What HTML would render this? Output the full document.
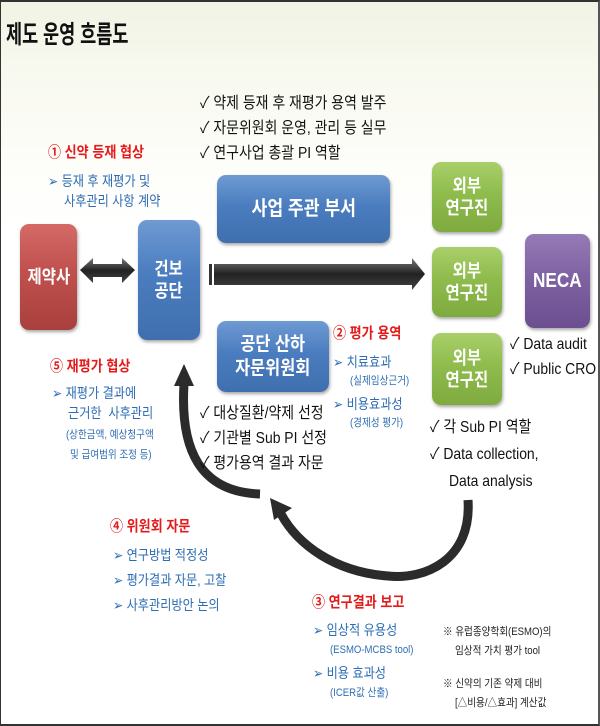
<!DOCTYPE html>
<html><head><meta charset="utf-8"><style>
*{margin:0;padding:0;box-sizing:border-box}
body{width:600px;height:726px;overflow:hidden;background:#fff;font-family:"Liberation Sans","Noto Sans CJK KR",sans-serif;position:relative}
.frame{position:absolute;left:0;top:0;width:600px;height:726px;border:2px solid #333;border-left-width:1px;border-right:2px solid #555;background:linear-gradient(180deg,#f1f3e4 0px,#f7f8ee 60px,#fdfdf9 160px,#fff 230px)}
.t{position:absolute;white-space:nowrap;line-height:1;transform:scaleX(.87);transform-origin:0 0}
.box{position:absolute;border-radius:9px;color:#fff;font-weight:bold;display:flex;align-items:center;justify-content:center;text-align:center;line-height:1.25;box-shadow:1px 2px 3px rgba(0,0,0,.35)}
.box span{display:inline-block;transform:scaleX(.86)}
.blue{background:linear-gradient(180deg,#6f9ad3,#4a7dbf 45%,#3f6fae);}
.green{background:linear-gradient(180deg,#a9cf6a,#8fbc4d 45%,#7eaa3f);}
.red{background:linear-gradient(180deg,#d46a66,#c0504d 45%,#a8403d);}
.purple{background:linear-gradient(180deg,#957bb6,#7f62a2 45%,#6c4f90);}
.r{color:#e41b1b;font-weight:bold;font-size:15px}
.b{color:#2e6db4;font-size:14px}
.s{color:#2e6db4;font-size:11px}
.k{color:#111;font-size:16px}
</style></head><body>
<div class="frame"></div>
<div class="t" style="left:6px;top:23px;font-size:25px;font-weight:bold;color:#111;transform:scaleX(.7)">제도 운영 흐름도</div>

<div class="t k" style="left:200px;top:96px">✓ 약제 등재 후 재평가 용역 발주</div>
<div class="t k" style="left:200px;top:121px">✓ 자문위원회 운영, 관리 등 실무</div>
<div class="t k" style="left:200px;top:146px">✓ 연구사업 총괄 PI 역할</div>

<div class="t r" style="left:48px;top:145px">① 신약 등재 협상</div>
<div class="t b" style="left:48px;top:174px">➢ 등재 후 재평가 및</div>
<div class="t b" style="left:64px;top:194px">사후관리 사항 계약</div>

<div class="box red" style="left:20px;top:224px;width:57px;height:106px;font-size:18px"><span>제약사</span></div>
<div class="box blue" style="left:138px;top:220px;width:62px;height:120px;font-size:18px"><span>건보<br>공단</span></div>
<div class="box blue" style="left:217px;top:175px;width:173px;height:68px;font-size:20px"><span>사업 주관 부서</span></div>
<div class="box green" style="left:432px;top:162px;width:70px;height:70px;font-size:18px"><span>외부<br>연구진</span></div>
<div class="box green" style="left:432px;top:247px;width:70px;height:70px;font-size:18px"><span>외부<br>연구진</span></div>
<div class="box green" style="left:432px;top:333px;width:70px;height:72px;font-size:18px"><span>외부<br>연구진</span></div>
<div class="box purple" style="left:525px;top:234px;width:65px;height:94px;font-size:20px"><span>NECA</span></div>
<div class="box blue" style="left:217px;top:321px;width:112px;height:71px;font-size:19px"><span>공단 산하<br>자문위원회</span></div>

<svg style="position:absolute;left:0;top:0" width="600" height="726">
<defs><linearGradient id="g" x1="0" y1="0" x2="0" y2="1"><stop offset="0" stop-color="#777"/><stop offset=".5" stop-color="#222"/><stop offset="1" stop-color="#444"/></linearGradient></defs>
<polygon points="80,270 93,258 93,264 122,264 122,258 135,270 122,283 122,277 93,277 93,283" fill="url(#g)"/>
<rect x="209" y="264" width="3" height="21" fill="#333"/>
<polygon points="214,264 412,264 412,258 425,274 412,290 412,285 214,285" fill="url(#g)"/>
<path d="M260,494 C200,492 180,450 184,384" fill="none" stroke="#2b2b2b" stroke-width="9"/>
<polygon points="174,386 184,364 194,386" fill="#2b2b2b"/>
<path d="M468,500 C472,560 425,580 388,576 C335,572 298,545 281,514" fill="none" stroke="#2b2b2b" stroke-width="9"/>
<polygon points="270,498 292,508 274,520" fill="#2b2b2b"/>
</svg>

<div class="t r" style="left:333px;top:326px">② 평가 용역</div>
<div class="t b" style="left:333px;top:355px">➢ 치료효과</div>
<div class="t s" style="left:350px;top:376px">(실제임상근거)</div>
<div class="t b" style="left:333px;top:397px">➢ 비용효과성</div>
<div class="t s" style="left:350px;top:418px">(경제성 평가)</div>

<div class="t k" style="left:200px;top:406px">✓ 대상질환/약제 선정</div>
<div class="t k" style="left:200px;top:431px">✓ 기관별 Sub PI 선정</div>
<div class="t k" style="left:200px;top:456px">✓ 평가용역 결과 자문</div>

<div class="t r" style="left:50px;top:359px">⑤ 재평가 협상</div>
<div class="t b" style="left:52px;top:386px">➢ 재평가 결과에</div>
<div class="t b" style="left:68px;top:406px">근거한 &nbsp;사후관리</div>
<div class="t s" style="left:66px;top:430px">(상한금액, 예상청구액</div>
<div class="t s" style="left:70px;top:450px">및 급여범위 조정 등)</div>

<div class="t k" style="left:510px;top:337px">✓ Data audit</div>
<div class="t k" style="left:510px;top:362px">✓ Public CRO</div>
<div class="t k" style="left:430px;top:420px">✓ 각 Sub PI 역할</div>
<div class="t k" style="left:430px;top:447px">✓ Data collection,</div>
<div class="t k" style="left:449px;top:474px">Data analysis</div>

<div class="t r" style="left:110px;top:519px">④ 위원회 자문</div>
<div class="t b" style="left:113px;top:548px">➢ 연구방법 적정성</div>
<div class="t b" style="left:113px;top:573px">➢ 평가결과 자문, 고찰</div>
<div class="t b" style="left:113px;top:598px">➢ 사후관리방안 논의</div>

<div class="t r" style="left:312px;top:595px">③ 연구결과 보고</div>
<div class="t b" style="left:313px;top:623px">➢ 임상적 유용성</div>
<div class="t s" style="left:330px;top:645px">(ESMO-MCBS tool)</div>
<div class="t b" style="left:313px;top:666px">➢ 비용 효과성</div>
<div class="t s" style="left:330px;top:688px">(ICER값 산출)</div>

<div class="t" style="left:443px;top:627px;font-size:11px;color:#222">※ 유럽종양학회(ESMO)의</div>
<div class="t" style="left:455px;top:646px;font-size:11px;color:#222">임상적 가치 평가 tool</div>
<div class="t" style="left:443px;top:679px;font-size:11px;color:#222">※ 신약의 기존 약제 대비</div>
<div class="t" style="left:455px;top:698px;font-size:11px;color:#222">[△비용/△효과] 계산값</div>
</body></html>
